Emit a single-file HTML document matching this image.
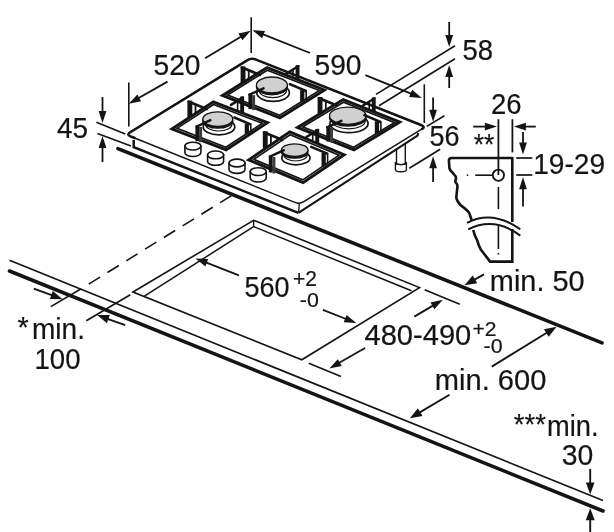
<!DOCTYPE html>
<html><head><meta charset="utf-8"><title>Hob installation</title>
<style>
html,body{margin:0;padding:0;background:#fff;}
body{width:614px;height:532px;overflow:hidden;}
svg{display:block;will-change:transform;}
text{font-family:"Liberation Sans",sans-serif;fill:#141414;stroke:#141414;stroke-width:0.2px;}
</style></head><body>
<svg width="614" height="532" viewBox="0 0 614 532">
<rect width="614" height="532" fill="#fff"/>
<line x1="117.9" y1="148.6" x2="602.0" y2="342.9" stroke="#141414" stroke-width="3.6" stroke-linecap="round"/>
<line x1="9.5" y1="260.3" x2="603.0" y2="500.5" stroke="#141414" stroke-width="1.7" />
<line x1="9.5" y1="271.0" x2="603.0" y2="511.0" stroke="#141414" stroke-width="3.6" stroke-linecap="round"/>
<polygon points="133,292 253.6,220.3 419.5,287.6 301.8,359.8" fill="none" stroke="#141414" stroke-width="1.6" stroke-linejoin="miter"/>
<polyline points="144.4,296.2 253.6,226.6 411.5,290.8" fill="none" stroke="#141414" stroke-width="1.5"/>
<line x1="253.6" y1="220.3" x2="253.6" y2="226.6" stroke="#141414" stroke-width="1.4" />
<line x1="88.7" y1="284.1" x2="231.5" y2="195.6" stroke="#141414" stroke-width="1.6" stroke-dasharray="13.3 8.8"/>
<line x1="50.8" y1="306.6" x2="81.2" y2="288.7" stroke="#141414" stroke-width="1.6" />
<line x1="86.3" y1="320.8" x2="130.3" y2="294.8" stroke="#141414" stroke-width="1.6" />
<line x1="33.8" y1="288.7" x2="52.3" y2="295.4" stroke="#141414" stroke-width="1.9" />
<polygon points="62.6,299.2 49.9,299.1 52.8,291.0" fill="#141414"/>
<line x1="125.2" y1="325.2" x2="107.5" y2="318.8" stroke="#141414" stroke-width="1.9" />
<polygon points="97.1,315.1 109.8,315.1 106.9,323.2" fill="#141414"/>
<path d="M396.5,140 V166 M405.3,140 V166" stroke="#141414" stroke-width="1.4" fill="none"/>
<path d="M395.4,162.3 V169.4 A5.5,2.3 0 0 0 406.4,169.4 V162.3 A5.5,2.3 0 0 1 395.4,162.3 Z" fill="#fff" stroke="#141414" stroke-width="1.4"/>
<path d="M395.4,162.3 A5.5,2.3 0 0 0 406.4,162.3" fill="none" stroke="#141414" stroke-width="1.4"/>
<path d="M133.7,140.0 L133.7,147.2 L298.4,212.9 L417.5,135.7 L425.6,126.8 L251.4,57.8 L126.3,134.6 Z" fill="#fff" stroke="none"/>
<polyline points="133.7,140.0 133.7,147.2 298.4,212.9" fill="none" stroke="#141414" stroke-width="2.5" stroke-linejoin="miter"/>
<polyline points="298.4,212.9 417.5,135.7 418.2,133" fill="none" stroke="#141414" stroke-width="2.1" stroke-linejoin="round"/>
<line x1="299.3" y1="204.0" x2="298.6" y2="212.5" stroke="#141414" stroke-width="1.3" />
<path d="M130.9 136.5 Q126.3 134.6 130.6 132.0 L247.1 60.4 Q251.4 57.8 256.0 59.6 L421.0 125.0 Q425.6 126.8 421.3 129.4 L303.8 201.7 Q299.5 204.3 294.9 202.4 Z" fill="#fff" stroke="#141414" stroke-width="1.5"/>
<path d="M134.6,138.0 L130.0,136.1 Q126.3,134.6 130.6,132.0 L247.1,60.4 Q251.4,57.8 256.0,59.6 L421.0,125.0 Q425.6,126.8 422.2,128.9" fill="none" stroke="#141414" stroke-width="2.5" stroke-linecap="round"/>
<polygon points="222.5,95.5 267.1,67.6 324.5,90.0 279.9,117.9" fill="none" stroke="#141414" stroke-width="2.9" stroke-linejoin="miter"/>
<polygon points="227.6,95.0 267.3,70.2 319.4,90.5 279.7,115.3" fill="none" stroke="#141414" stroke-width="1.7" stroke-linejoin="miter"/>
<rect x="240.6" y="66.4" width="4.9" height="16.9" fill="#141414"/>
<rect x="247.8" y="70.7" width="1.8" height="9.0" fill="#141414"/>
<line x1="242.0" y1="67.6" x2="259.9" y2="74.9" stroke="#141414" stroke-width="2.7" stroke-linecap="round"/>
<rect x="295.6" y="65.1" width="3.9" height="14.3" fill="#141414"/>
<rect x="292.2" y="70.1" width="1.6" height="6.5" fill="#141414"/>
<line x1="298.2" y1="66.2" x2="286.4" y2="73.5" stroke="#141414" stroke-width="2.5" stroke-linecap="round"/>
<ellipse cx="273.1" cy="92.8" rx="16.3" ry="8.6" fill="#fff" stroke="#141414" stroke-width="1.7"/>
<ellipse cx="272.8" cy="90.2" rx="13.7" ry="7.4" fill="#fff" stroke="#141414" stroke-width="1.2"/>
<ellipse cx="271.9" cy="86.8" rx="15.5" ry="8.0" fill="#141414" stroke="#141414" stroke-width="1.3"/>
<ellipse cx="271.9" cy="85.0" rx="15.5" ry="8.0" fill="#d0d0d0" stroke="#141414" stroke-width="1.3"/>
<rect x="248.4" y="93.6" width="3.7" height="15.5" fill="#141414"/>
<rect x="252.1" y="95.1" width="3.0" height="15.0" fill="#3c3c3c"/>
<line x1="249.5" y1="94.7" x2="263.5" y2="88.3" stroke="#141414" stroke-width="2.4" stroke-linecap="round"/>
<rect x="300.1" y="90.2" width="4.3" height="11.4" fill="#141414"/>
<rect x="305.4" y="91.9" width="1.6" height="8.1" fill="#141414"/>
<line x1="306.0" y1="91.0" x2="289.8" y2="84.2" stroke="#141414" stroke-width="2.5" stroke-linecap="round"/>
<polygon points="171.9,129.0 213.3,101.8 267.5,122.7 226.1,149.9" fill="none" stroke="#141414" stroke-width="2.9" stroke-linejoin="miter"/>
<polygon points="177.0,128.4 213.5,104.5 262.4,123.3 225.9,147.2" fill="none" stroke="#141414" stroke-width="1.7" stroke-linejoin="miter"/>
<rect x="187.4" y="100.6" width="4.9" height="16.9" fill="#141414"/>
<rect x="194.6" y="104.9" width="1.8" height="9.0" fill="#141414"/>
<line x1="188.8" y1="101.8" x2="206.7" y2="109.1" stroke="#141414" stroke-width="2.7" stroke-linecap="round"/>
<rect x="240.2" y="96.5" width="3.9" height="16.3" fill="#141414"/>
<rect x="236.8" y="101.5" width="1.6" height="8.5" fill="#141414"/>
<line x1="242.8" y1="97.6" x2="231.0" y2="104.9" stroke="#141414" stroke-width="2.5" stroke-linecap="round"/>
<ellipse cx="219.0" cy="126.9" rx="15.8" ry="7.9" fill="#fff" stroke="#141414" stroke-width="1.7"/>
<ellipse cx="218.7" cy="124.3" rx="13.2" ry="6.7" fill="#fff" stroke="#141414" stroke-width="1.2"/>
<ellipse cx="217.8" cy="120.9" rx="15.0" ry="7.3" fill="#141414" stroke="#141414" stroke-width="1.3"/>
<ellipse cx="217.8" cy="119.1" rx="15.0" ry="7.3" fill="#d0d0d0" stroke="#141414" stroke-width="1.3"/>
<rect x="195.4" y="125.5" width="3.7" height="15.7" fill="#141414"/>
<rect x="199.1" y="127.0" width="3.0" height="15.2" fill="#3c3c3c"/>
<line x1="196.5" y1="126.6" x2="210.5" y2="120.2" stroke="#141414" stroke-width="2.4" stroke-linecap="round"/>
<rect x="244.7" y="123.6" width="4.3" height="10.4" fill="#141414"/>
<rect x="250.0" y="125.2" width="1.6" height="7.1" fill="#141414"/>
<line x1="250.6" y1="124.3" x2="234.4" y2="117.5" stroke="#141414" stroke-width="2.5" stroke-linecap="round"/>
<polygon points="297.4,127.4 343.2,99.6 399.8,122.1 354.0,149.9" fill="none" stroke="#141414" stroke-width="2.9" stroke-linejoin="miter"/>
<polygon points="302.5,126.9 343.5,102.2 394.7,122.6 353.7,147.3" fill="none" stroke="#141414" stroke-width="1.7" stroke-linejoin="miter"/>
<rect x="317.6" y="97.0" width="4.9" height="16.9" fill="#141414"/>
<rect x="324.9" y="101.3" width="1.8" height="9.0" fill="#141414"/>
<line x1="319.1" y1="98.2" x2="336.9" y2="105.5" stroke="#141414" stroke-width="2.7" stroke-linecap="round"/>
<rect x="371.8" y="97.4" width="3.9" height="14.3" fill="#141414"/>
<rect x="368.4" y="102.4" width="1.6" height="6.5" fill="#141414"/>
<line x1="374.4" y1="98.5" x2="362.6" y2="105.8" stroke="#141414" stroke-width="2.5" stroke-linecap="round"/>
<ellipse cx="349.0" cy="123.5" rx="19.1" ry="9.2" fill="#fff" stroke="#141414" stroke-width="1.7"/>
<ellipse cx="348.7" cy="120.9" rx="16.5" ry="8.0" fill="#fff" stroke="#141414" stroke-width="1.2"/>
<ellipse cx="347.8" cy="117.5" rx="18.3" ry="8.6" fill="#141414" stroke="#141414" stroke-width="1.3"/>
<ellipse cx="347.8" cy="115.7" rx="18.3" ry="8.6" fill="#d0d0d0" stroke="#141414" stroke-width="1.3"/>
<rect x="326.3" y="126.1" width="3.7" height="15.4" fill="#141414"/>
<rect x="330.0" y="127.6" width="3.0" height="14.9" fill="#3c3c3c"/>
<line x1="327.4" y1="127.2" x2="341.4" y2="120.8" stroke="#141414" stroke-width="2.4" stroke-linecap="round"/>
<rect x="374.8" y="121.3" width="4.3" height="12.4" fill="#141414"/>
<rect x="380.1" y="123.0" width="1.6" height="9.1" fill="#141414"/>
<line x1="380.6" y1="122.0" x2="364.4" y2="115.2" stroke="#141414" stroke-width="2.5" stroke-linecap="round"/>
<polygon points="248.7,159.9 289.8,131.9 344.2,154.7 303.1,182.7" fill="none" stroke="#141414" stroke-width="2.9" stroke-linejoin="miter"/>
<polygon points="253.8,159.4 290.1,134.7 339.1,155.2 302.8,179.9" fill="none" stroke="#141414" stroke-width="1.7" stroke-linejoin="miter"/>
<rect x="262.8" y="131.3" width="4.9" height="16.9" fill="#141414"/>
<rect x="270.0" y="135.7" width="1.8" height="9.0" fill="#141414"/>
<line x1="264.2" y1="132.6" x2="282.1" y2="139.8" stroke="#141414" stroke-width="2.7" stroke-linecap="round"/>
<rect x="315.3" y="128.9" width="3.9" height="14.3" fill="#141414"/>
<rect x="311.9" y="133.9" width="1.6" height="6.5" fill="#141414"/>
<line x1="317.9" y1="130.0" x2="306.1" y2="137.3" stroke="#141414" stroke-width="2.5" stroke-linecap="round"/>
<ellipse cx="295.9" cy="157.9" rx="14.1" ry="6.9" fill="#fff" stroke="#141414" stroke-width="1.7"/>
<ellipse cx="295.6" cy="155.3" rx="11.5" ry="5.7" fill="#fff" stroke="#141414" stroke-width="1.2"/>
<ellipse cx="294.7" cy="151.9" rx="13.3" ry="6.3" fill="#141414" stroke="#141414" stroke-width="1.3"/>
<ellipse cx="294.7" cy="150.1" rx="13.3" ry="6.3" fill="#d0d0d0" stroke="#141414" stroke-width="1.3"/>
<rect x="268.8" y="155.5" width="3.7" height="17.0" fill="#141414"/>
<rect x="272.4" y="157.0" width="3.0" height="16.5" fill="#3c3c3c"/>
<line x1="269.9" y1="156.6" x2="283.9" y2="150.2" stroke="#141414" stroke-width="2.4" stroke-linecap="round"/>
<rect x="321.5" y="153.0" width="4.3" height="13.4" fill="#141414"/>
<rect x="326.8" y="154.6" width="1.6" height="10.1" fill="#141414"/>
<line x1="327.4" y1="153.7" x2="311.2" y2="146.9" stroke="#141414" stroke-width="2.5" stroke-linecap="round"/>
<path d="M184.9,146.1 V152.6 A8.0,3.9 0 0 0 200.9,152.6 V146.1 Z" fill="#fff" stroke="#141414" stroke-width="1.6"/>
<ellipse cx="192.9" cy="146.1" rx="8.0" ry="3.9" fill="#fff" stroke="#141414" stroke-width="1.6"/>
<path d="M207.6,154.9 V161.4 A8.0,3.9 0 0 0 223.6,161.4 V154.9 Z" fill="#fff" stroke="#141414" stroke-width="1.6"/>
<ellipse cx="215.6" cy="154.9" rx="8.0" ry="3.9" fill="#fff" stroke="#141414" stroke-width="1.6"/>
<path d="M229.0,163.0 V169.5 A8.0,3.9 0 0 0 245.0,169.5 V163.0 Z" fill="#fff" stroke="#141414" stroke-width="1.6"/>
<ellipse cx="237.0" cy="163.0" rx="8.0" ry="3.9" fill="#fff" stroke="#141414" stroke-width="1.6"/>
<path d="M250.2,171.6 V178.1 A8.0,3.9 0 0 0 266.2,178.1 V171.6 Z" fill="#fff" stroke="#141414" stroke-width="1.6"/>
<ellipse cx="258.2" cy="171.6" rx="8.0" ry="3.9" fill="#fff" stroke="#141414" stroke-width="1.6"/>
<line x1="96.4" y1="122.2" x2="125.3" y2="134.0" stroke="#141414" stroke-width="1.6" />
<line x1="97.5" y1="133.6" x2="131.0" y2="146.1" stroke="#141414" stroke-width="1.6" />
<line x1="102.5" y1="97.1" x2="102.5" y2="111.9" stroke="#141414" stroke-width="1.8" />
<polygon points="102.5,122.9 98.6,110.9 106.4,110.9" fill="#141414"/>
<line x1="102.5" y1="162.1" x2="102.5" y2="146.9" stroke="#141414" stroke-width="1.8" />
<polygon points="102.5,135.9 106.4,147.9 98.6,147.9" fill="#141414"/>
<text x="57.0" y="137.8" font-size="28.8" text-anchor="start" textLength="31" lengthAdjust="spacingAndGlyphs">45</text>
<line x1="128.8" y1="82.4" x2="128.8" y2="126.5" stroke="#141414" stroke-width="1.6" />
<line x1="251.2" y1="17.3" x2="251.2" y2="53.0" stroke="#141414" stroke-width="1.6" />
<line x1="167.5" y1="81.6" x2="138.3" y2="98.3" stroke="#141414" stroke-width="1.8" />
<polygon points="128.8,103.8 137.3,94.4 141.1,101.2" fill="#141414"/>
<line x1="205.1" y1="58.2" x2="241.3" y2="36.5" stroke="#141414" stroke-width="1.8" />
<polygon points="250.7,30.8 242.4,40.3 238.4,33.6" fill="#141414"/>
<text x="153.5" y="75.1" font-size="28.8" text-anchor="start" textLength="47" lengthAdjust="spacingAndGlyphs">520</text>
<line x1="310.0" y1="53.0" x2="262.6" y2="34.2" stroke="#141414" stroke-width="1.8" />
<polygon points="252.4,30.2 265.0,31.0 262.1,38.2" fill="#141414"/>
<line x1="365.4" y1="75.1" x2="411.6" y2="93.8" stroke="#141414" stroke-width="1.8" />
<polygon points="421.8,97.9 409.2,97.0 412.1,89.8" fill="#141414"/>
<text x="314.5" y="74.5" font-size="28.8" text-anchor="start" textLength="47" lengthAdjust="spacingAndGlyphs">590</text>
<line x1="424.3" y1="84.3" x2="424.3" y2="123.0" stroke="#141414" stroke-width="1.6" />
<line x1="376.0" y1="94.4" x2="455.0" y2="45.7" stroke="#141414" stroke-width="1.6" />
<line x1="379.0" y1="105.8" x2="455.0" y2="58.7" stroke="#141414" stroke-width="1.6" />
<line x1="449.2" y1="22.0" x2="449.2" y2="36.0" stroke="#141414" stroke-width="1.8" />
<polygon points="449.2,47.0 445.3,35.0 453.1,35.0" fill="#141414"/>
<line x1="449.2" y1="88.0" x2="449.2" y2="76.1" stroke="#141414" stroke-width="1.8" />
<polygon points="449.2,65.1 453.1,77.1 445.3,77.1" fill="#141414"/>
<text x="462.5" y="60.1" font-size="28.8" text-anchor="start" textLength="30.5" lengthAdjust="spacingAndGlyphs">58</text>
<line x1="426.7" y1="126.4" x2="444.5" y2="115.7" stroke="#141414" stroke-width="1.6" />
<line x1="409.3" y1="168.2" x2="440.2" y2="149.2" stroke="#141414" stroke-width="1.6" />
<line x1="433.1" y1="97.4" x2="433.1" y2="110.8" stroke="#141414" stroke-width="1.8" />
<polygon points="433.1,121.8 429.2,109.8 437.0,109.8" fill="#141414"/>
<line x1="433.1" y1="182.0" x2="433.1" y2="167.3" stroke="#141414" stroke-width="1.8" />
<polygon points="433.1,156.3 437.0,168.3 429.2,168.3" fill="#141414"/>
<text x="429.5" y="145.8" font-size="28.8" text-anchor="start" textLength="30" lengthAdjust="spacingAndGlyphs">56</text>
<path d="M512.3,222 V158 H451.8 Q448.7,158 448.9,161 L449.5,168.6 Q449.8,170.2 451.6,171.6 L454,174.4 Q456.4,176.6 456,178.6 Q455,181 455.6,182.4 Q457.8,184.4 457.4,187 L456.3,197.5 Q456.6,200.5 460.8,205.3 Q467,209.5 469.4,213.4 L471.6,220" fill="none" stroke="#141414" stroke-width="2.6" stroke-linejoin="round"/>
<path d="M473.2,230 Q474.6,236 477.2,240.4 Q478.6,245.6 480.8,249.5 L490.1,261.6 H512.3 V229" fill="none" stroke="#141414" stroke-width="2.6" stroke-linejoin="miter"/>
<path d="M467,222.8 C480,216 498,213.5 520.3,229.3" fill="none" stroke="#141414" stroke-width="2.0"/>
<path d="M468.2,229.4 C482,222.5 500,220.5 520.3,235.6" fill="none" stroke="#141414" stroke-width="2.0"/>
<circle cx="498.4" cy="175.2" r="5.6" fill="#fff" stroke="#141414" stroke-width="1.8"/>
<line x1="498.4" y1="119.2" x2="498.4" y2="175.0" stroke="#141414" stroke-width="1.8" />
<line x1="498.4" y1="187.0" x2="498.4" y2="209.0" stroke="#141414" stroke-width="1.6" />
<line x1="498.4" y1="226.0" x2="498.4" y2="249.0" stroke="#141414" stroke-width="1.6" />
<line x1="498.4" y1="253.0" x2="498.4" y2="254.5" stroke="#141414" stroke-width="1.6" />
<line x1="475.2" y1="175.2" x2="492.8" y2="175.2" stroke="#141414" stroke-width="1.6" />
<line x1="466.8" y1="175.2" x2="468.2" y2="175.2" stroke="#141414" stroke-width="1.6" />
<line x1="512.4" y1="119.2" x2="512.4" y2="152.4" stroke="#141414" stroke-width="1.8" />
<line x1="473.2" y1="126.6" x2="485.9" y2="126.6" stroke="#141414" stroke-width="1.8" />
<polygon points="496.9,126.6 484.9,130.5 484.9,122.7" fill="#141414"/>
<line x1="535.8" y1="126.6" x2="524.9" y2="126.6" stroke="#141414" stroke-width="1.8" />
<polygon points="513.9,126.6 525.9,122.7 525.9,130.5" fill="#141414"/>
<line x1="523.0" y1="131.9" x2="523.0" y2="143.6" stroke="#141414" stroke-width="1.8" />
<polygon points="523.0,154.6 519.1,142.6 526.9,142.6" fill="#141414"/>
<line x1="523.0" y1="206.4" x2="523.0" y2="188.2" stroke="#141414" stroke-width="1.8" />
<polygon points="523.0,177.2 526.9,189.2 519.1,189.2" fill="#141414"/>
<line x1="516.2" y1="158.0" x2="532.3" y2="158.0" stroke="#141414" stroke-width="1.7" />
<line x1="516.2" y1="175.0" x2="532.3" y2="175.0" stroke="#141414" stroke-width="1.7" />
<text x="491.0" y="113.9" font-size="28.8" text-anchor="start" textLength="30.5" lengthAdjust="spacingAndGlyphs">26</text>
<text x="473.8" y="153.5" font-size="28.8" text-anchor="start" textLength="20.5" lengthAdjust="spacingAndGlyphs">**</text>
<text x="533.2" y="174.2" font-size="28.8" text-anchor="start" textLength="72" lengthAdjust="spacingAndGlyphs">19-29</text>
<line x1="238.9" y1="275.3" x2="205.8" y2="262.4" stroke="#141414" stroke-width="1.8" />
<polygon points="195.6,258.4 208.2,259.1 205.4,266.4" fill="#141414"/>
<line x1="322.9" y1="309.8" x2="346.1" y2="319.0" stroke="#141414" stroke-width="1.8" />
<polygon points="356.3,323.0 343.7,322.2 346.6,315.0" fill="#141414"/>
<text x="244.6" y="296.8" font-size="28.8" text-anchor="start" textLength="45" lengthAdjust="spacingAndGlyphs">560</text>
<text x="293.0" y="286.4" font-size="21.5" text-anchor="start" textLength="24" lengthAdjust="spacingAndGlyphs">+2</text>
<text x="299.8" y="306.9" font-size="20" text-anchor="start" textLength="19" lengthAdjust="spacingAndGlyphs">-0</text>
<line x1="424.6" y1="289.8" x2="459.8" y2="304.2" stroke="#141414" stroke-width="1.6" />
<line x1="308.8" y1="363.2" x2="341.0" y2="376.4" stroke="#141414" stroke-width="1.6" />
<line x1="414.3" y1="316.6" x2="433.3" y2="305.4" stroke="#141414" stroke-width="1.8" />
<polygon points="442.8,299.8 434.4,309.3 430.5,302.5" fill="#141414"/>
<line x1="365.1" y1="348.0" x2="338.8" y2="363.0" stroke="#141414" stroke-width="1.8" />
<polygon points="329.3,368.5 337.8,359.2 341.7,365.9" fill="#141414"/>
<text x="364.5" y="345.0" font-size="28.8" text-anchor="start" textLength="106.8" lengthAdjust="spacingAndGlyphs">480-490</text>
<text x="472.4" y="335.9" font-size="21" text-anchor="start" textLength="24" lengthAdjust="spacingAndGlyphs">+2</text>
<text x="483.6" y="353.1" font-size="20" text-anchor="start" textLength="19" lengthAdjust="spacingAndGlyphs">-0</text>
<line x1="484.0" y1="274.3" x2="474.1" y2="279.9" stroke="#141414" stroke-width="1.9" />
<polygon points="464.5,285.3 472.7,275.5 477.2,283.3" fill="#141414"/>
<text x="489.8" y="291.2" font-size="28.8" text-anchor="start" textLength="94.8" lengthAdjust="spacingAndGlyphs">min. 50</text>
<line x1="491.8" y1="366.6" x2="547.2" y2="332.5" stroke="#141414" stroke-width="1.9" />
<polygon points="556.6,326.7 548.7,336.8 544.0,329.2" fill="#141414"/>
<line x1="449.5" y1="394.7" x2="419.4" y2="412.6" stroke="#141414" stroke-width="1.9" />
<polygon points="409.9,418.2 417.9,408.2 422.5,415.9" fill="#141414"/>
<text x="434.8" y="390.0" font-size="28.8" text-anchor="start" textLength="111.5" lengthAdjust="spacingAndGlyphs">min. 600</text>
<text x="17.5" y="336.5" font-size="28.8" text-anchor="start">*</text>
<text x="32.0" y="339.4" font-size="28.8" text-anchor="start" textLength="53" lengthAdjust="spacingAndGlyphs">min.</text>
<text x="34.5" y="368.5" font-size="28.8" text-anchor="start" textLength="46" lengthAdjust="spacingAndGlyphs">100</text>
<text x="513.8" y="434.0" font-size="28.8" text-anchor="start" textLength="32" lengthAdjust="spacingAndGlyphs">***</text>
<text x="547.0" y="436.2" font-size="28.8" text-anchor="start" textLength="51.5" lengthAdjust="spacingAndGlyphs">min.</text>
<text x="561.8" y="464.9" font-size="28.8" text-anchor="start" textLength="31.5" lengthAdjust="spacingAndGlyphs">30</text>
<line x1="590.2" y1="469.0" x2="590.2" y2="483.6" stroke="#141414" stroke-width="1.9" />
<polygon points="590.2,494.6 585.9,482.6 594.5,482.6" fill="#141414"/>
<line x1="590.2" y1="533.0" x2="590.2" y2="519.2" stroke="#141414" stroke-width="1.9" />
<polygon points="590.2,508.2 594.7,520.2 585.7,520.2" fill="#141414"/>
</svg>
</body></html>
